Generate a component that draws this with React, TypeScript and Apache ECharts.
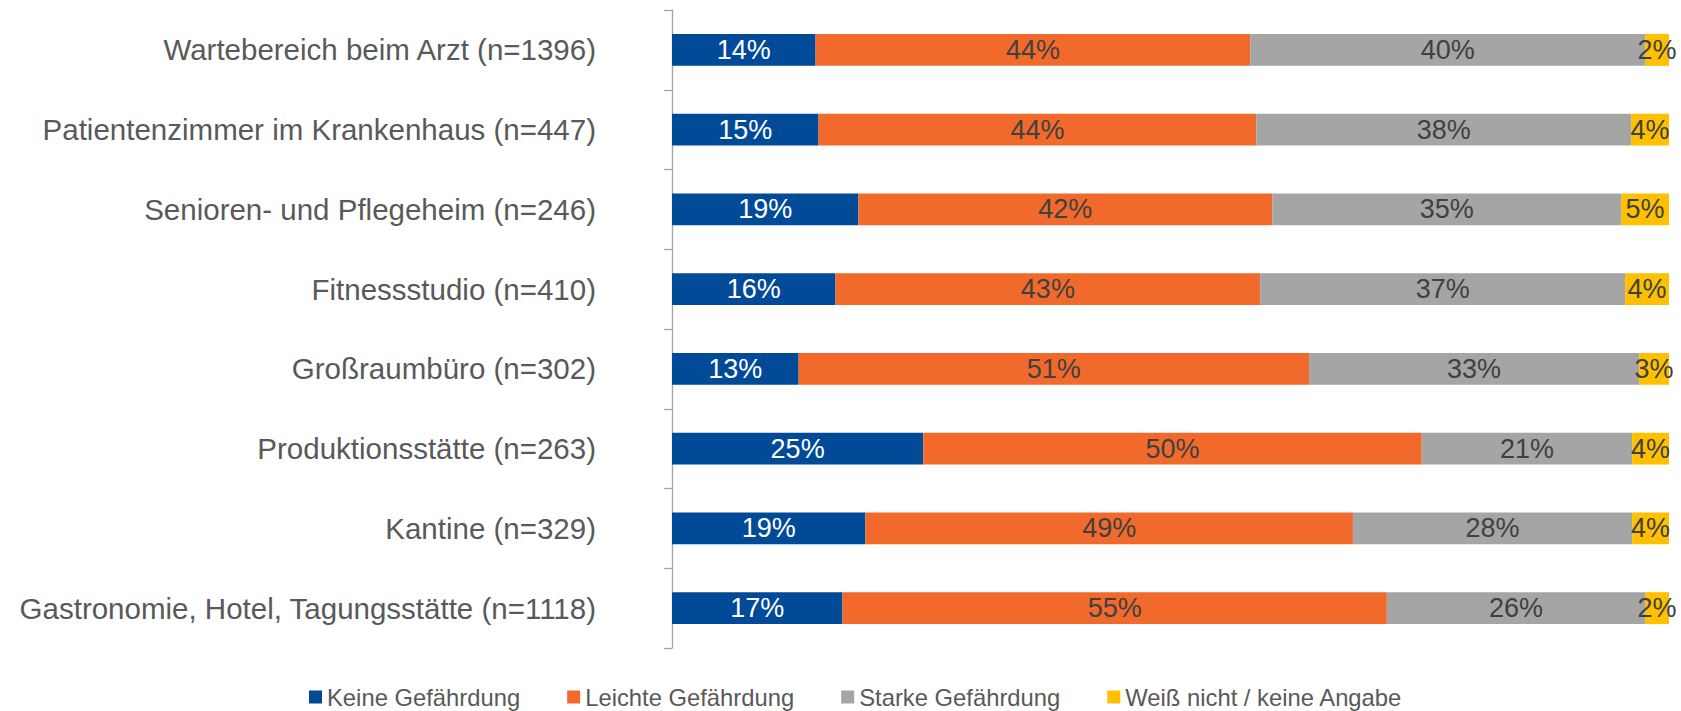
import React, { useEffect, useRef } from "react";
import * as echarts from "echarts";

const categories = [
  "Wartebereich beim Arzt (n=1396)",
  "Patientenzimmer im Krankenhaus (n=447)",
  "Senioren- und Pflegeheim (n=246)",
  "Fitnessstudio (n=410)",
  "Großraumbüro (n=302)",
  "Produktionsstätte (n=263)",
  "Kantine (n=329)",
  "Gastronomie, Hotel, Tagungsstätte (n=1118)",
];

const seriesNames = [
  "Keine Gefährdung",
  "Leichte Gefährdung",
  "Starke Gefährdung",
  "Weiß nicht / keine Angabe",
];

const keine = [14.4, 14.7, 18.7, 16.4, 12.7, 25.2, 19.4, 17.1];
const leichte = [43.6, 43.9, 41.5, 42.6, 51.2, 50.0, 48.9, 54.6];
const starke = [39.6, 37.6, 35.0, 36.6, 33.1, 21.1, 28.0, 25.9];
const weiss = [2.4, 3.8, 4.8, 4.4, 3.0, 3.7, 3.7, 2.4];

const colors = ["#004A97", "#F26A2B", "#A5A5A5", "#FFC000"];
const labelColors = ["#FFFFFF", "#404040", "#404040", "#404040"];

const FONT = "'Liberation Sans', Arial, Helvetica, sans-serif";

export default function App() {
  const ref = useRef<HTMLDivElement>(null);
  useEffect(() => {
    if (!ref.current) return;
    const chart = echarts.init(ref.current, null, { renderer: "svg" });
    const data = [keine, leichte, starke, weiss];
    chart.setOption({
      animation: false,
      textStyle: { fontFamily: FONT },
      grid: { left: 672, right: 12, top: 10, bottom: 63, containLabel: false },
      legend: {
        data: seriesNames,
        left: 304,
        top: 680,
        icon: "rect",
        itemWidth: 13,
        itemHeight: 13,
        itemGap: 47,
        textStyle: { fontFamily: FONT, fontSize: 23.8, color: "#595959" },
      },
      xAxis: {
        type: "value",
        min: 0,
        max: 100,
        show: false,
      },
      yAxis: {
        type: "category",
        data: categories,
        inverse: true,
        axisLine: { show: true, lineStyle: { color: "#A6A6A6", width: 1.3 } },
        axisTick: { show: true, length: 8, lineStyle: { color: "#A6A6A6", width: 1.3 } },
        axisLabel: {
          margin: 76,
          fontFamily: FONT,
          fontSize: 29.5,
          color: "#595959",
        },
      },
      series: data.map((d, i) => ({
        name: seriesNames[i],
        type: "bar",
        stack: "total",
        barCategoryGap: "60%",
        data: d,
        itemStyle: { color: colors[i] },
        label: {
          show: true,
          position: "inside",
          fontFamily: FONT,
          fontSize: 27,
          color: labelColors[i],
          formatter: (p: any) => Math.round(p.value) + "%",
        },
      })),
    });
    return () => chart.dispose();
  }, []);
  return (
    <div
      ref={ref}
      style={{ position: "fixed", left: 0, top: 0, width: 1681, height: 711, background: "#fff" }}
    />
  );
}
